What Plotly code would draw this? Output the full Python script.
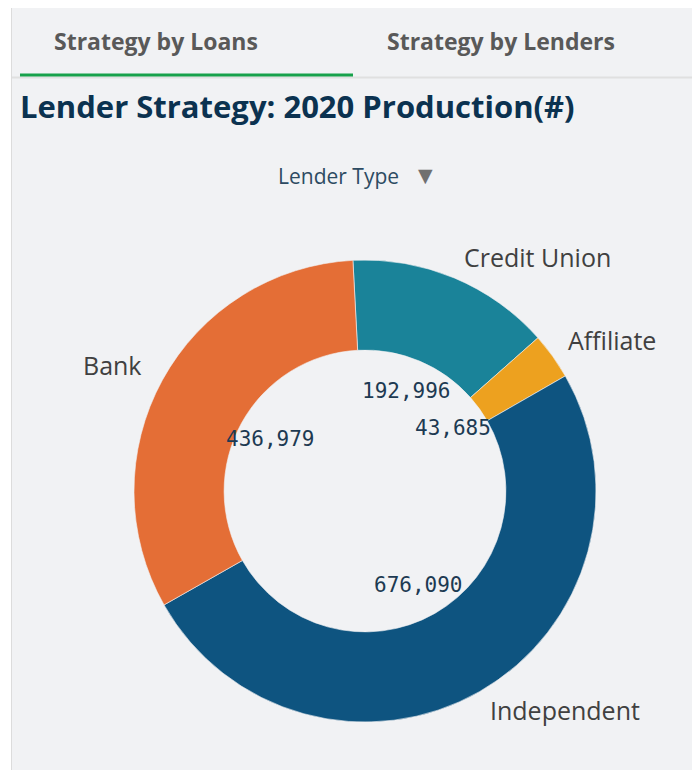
import math
import plotly.graph_objects as go

# ---- data ----
categories = ["Credit Union", "Affiliate", "Independent", "Bank"]
values = [192996, 43685, 676090, 436979]
colors = ["#1a8399", "#eda11f", "#0e5480", "#e46e36"]
title_text = "Lender Strategy: 2020 Production(#)"
tab_labels = ["Strategy by Loans", "Strategy by Lenders"]
legend_title = "Lender Type"

# the page body adds an 8px offset; figure is sized to fit the window
OFF = 8
W, H = 700 - OFF, 770 - OFF


def fx(x):
    return (x - OFF) / W


def fy(y):
    return 1 - (y - OFF) / H


cx, cy, R = 365, 491, 231
rotation = -3
hole = 0.61
value_r = 108
label_gap = 14

fig = go.Figure()
fig.add_trace(go.Pie(
    labels=categories, values=values, sort=False, direction="clockwise",
    rotation=rotation, hole=hole,
    marker=dict(colors=colors, line=dict(color="#f1f2f4", width=0.6)),
    textinfo="none",
    hoverinfo="label+value", showlegend=False,
    domain=dict(x=[fx(cx - R), fx(cx + R)], y=[fy(cy + R), fy(cy - R)]),
))

# value labels inside the hole and category labels outside, from data angles
total = sum(values)
cum = 0
annotations = []
for cat, v in zip(categories, values):
    mid = rotation + (cum + v / 2) / total * 360
    cum += v
    a = math.radians(mid)
    s, c = math.sin(a), math.cos(a)
    annotations.append(dict(
        x=fx(cx + value_r * s), y=fy(cy - value_r * c), xref="paper", yref="paper",
        text=f"{v:,}", showarrow=False, xanchor="center", yanchor="middle",
        font=dict(family="DejaVu Sans Mono, monospace", size=21, color="#1d3a52"),
    ))
    ro = R + label_gap
    annotations.append(dict(
        x=fx(cx + ro * s), y=fy(cy - ro * c), xref="paper", yref="paper",
        text=cat, showarrow=False,
        xanchor="left" if s >= 0 else "right",
        yanchor="bottom" if c >= 0 else "top",
        xshift=2 if s >= 0 else -6,
        yshift=-11 if c >= 0 else 13,
        font=dict(family="Open Sans, Noto Sans, sans-serif", size=25, color="#404040"),
    ))

# tabs
for lbl, x in zip(tab_labels, [156, 501]):
    annotations.append(dict(x=fx(x), y=fy(41), xref="paper", yref="paper",
                            text=f"<b>{lbl}</b>", showarrow=False,
                            xanchor="center", yanchor="middle",
                            font=dict(family="Open Sans, sans-serif", size=23, color="#595959")))
# title
annotations.append(dict(x=fx(18), y=fy(106), xref="paper", yref="paper",
                        text=f"<b>{title_text}</b>", showarrow=False,
                        xanchor="left", yanchor="middle",
                        font=dict(family="Open Sans, sans-serif", size=31, color="#0b3250")))
# dropdown label
annotations.append(dict(x=fx(338), y=fy(176), xref="paper", yref="paper",
                        text=legend_title, showarrow=False,
                        xanchor="center", yanchor="middle",
                        font=dict(family="Open Sans, sans-serif", size=21, color="#2d4b62")))
annotations.append(dict(x=fx(426), y=fy(175), xref="paper", yref="paper",
                        text="▼", showarrow=False, xanchor="center", yanchor="middle",
                        font=dict(family="DejaVu Sans, sans-serif", size=19, color="#707070")))

shapes = [
    # white left strip + border
    dict(type="rect", xref="paper", yref="paper", x0=0, x1=fx(11), y0=0, y1=1,
         fillcolor="white", line=dict(width=0), layer="below"),
    dict(type="line", xref="paper", yref="paper", x0=fx(11.5), x1=fx(11.5), y0=0, y1=1,
         line=dict(color="#dcdcdc", width=1), layer="below"),
    # tab separator
    dict(type="line", xref="paper", yref="paper", x0=fx(12), x1=1, y0=fy(77.5), y1=fy(77.5),
         line=dict(color="#e0e0e0", width=2), layer="below"),
    # active tab underline
    dict(type="line", xref="paper", yref="paper", x0=fx(20), x1=fx(353), y0=fy(75), y1=fy(75),
         line=dict(color="#17a14b", width=3), layer="below"),
]

fig.update_layout(
    width=W, height=H, margin=dict(l=0, r=0, t=0, b=0),
    paper_bgcolor="#f1f2f4", plot_bgcolor="#f1f2f4",
    annotations=annotations, shapes=shapes,
)
fig.write_html("out.html")
